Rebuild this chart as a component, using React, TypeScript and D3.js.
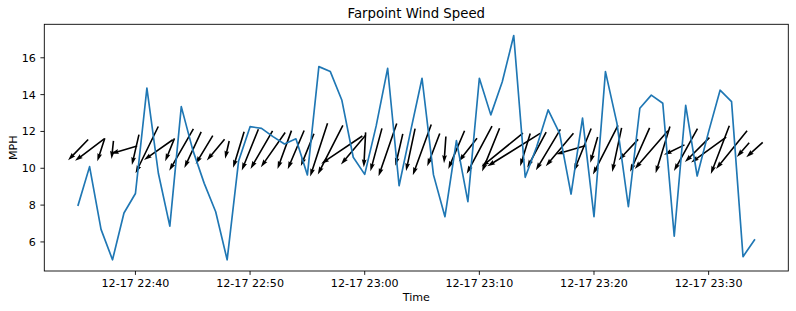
import React from 'react';
import * as d3 from 'd3';

// ---- data ----
const START = new Date(2023, 11, 17, 22, 35, 0);
// wind speed (MPH), one reading per minute
const speeds: number[] = [
  8.0, 10.09, 6.68, 5.03, 7.57, 8.63, 14.35, 9.73, 6.86, 13.35,
  11.0, 9.18, 7.64, 5.03, 10.4, 12.26, 12.17, 11.72, 11.32, 11.6,
  9.64, 15.52, 15.25, 13.71, 10.6, 9.67, 12.3, 15.43, 9.05, 12.0,
  14.89, 9.64, 7.37, 11.5, 8.19, 14.89, 12.9, 14.7, 17.21, 9.51,
  11.17, 13.17, 11.9, 8.6, 12.72, 7.37, 15.25, 12.45, 7.91, 13.26,
  13.97, 13.53, 6.31, 13.42, 9.58, 11.99, 14.24, 13.62, 5.2, 6.11,
];
// wind direction (degrees, direction the wind blows FROM)
const directions: number[] = [
  44, 53, 18, 6, 74, 13, 26, 55, 22, 30,
  25, 31, 40, 13, 17, 22, 30, 35, 20, 23,
  22, 18, 27, 56, 40, 3, 15, 19, 13, 12,
  20, 21, 4, 23, 38, 28, 22, 51, 58, 17,
  28, 31, 40, 74, 22, 16, 27, 12, 43, 24,
  41, 17, 64, 29, 45, 54, 21, 39, 41, 48,
];
const yTicks: number[] = [6, 8, 10, 12, 14, 16];
const QUIVER_Y = 11;
const TITLE = 'Farpoint Wind Speed';
const X_LABEL = 'Time';
const Y_LABEL = 'MPH';

export default function App() {
  const W = 796, H = 311;
  const L = 44.3, R = 788.3, T = 24.3, B = 271;
  const font = 'DejaVu Sans, sans-serif';
  const fs = 11.1;

  const times = speeds.map((_, i) => new Date(START.getTime() + i * 60000));
  const t0 = +times[0], t1 = +times[times.length - 1];
  const span = t1 - t0;
  const x = d3.scaleTime()
    .domain([new Date(t0 - 0.05 * span), new Date(t1 + 0.05 * span)])
    .range([L, R]);
  const ymin = d3.min(speeds) as number, ymax = d3.max(speeds) as number;
  const yr = ymax - ymin;
  const y = d3.scaleLinear().domain([ymin - 0.05 * yr, ymax + 0.05 * yr]).range([B, T]);

  const line = d3.line<number>().x((_, i) => x(times[i])).y(d => y(d));
  const xTicks = x.ticks(d3.timeMinute.every(10) as any);
  const fmt = d3.timeFormat('%m-%d %H:%M');

  // quiver arrows, pivot middle, length proportional to speed
  const k = 3.62;
  const w = 1.6;
  const hl = 5 * w, hal = 4.5 * w, hw = 1.5 * w;
  const arrows = speeds.map((s, i) => {
    const len = s * k;
    const rad = (directions[i] * Math.PI) / 180;
    const ux = -Math.sin(rad), uy = Math.cos(rad);
    const px = -uy, py = ux;
    const cx = x(times[i]), cy = y(QUIVER_Y);
    const pts: [number, number][] = [
      [0, -w / 2], [len - hal, -w / 2], [len - hl, -hw], [len, 0],
      [len - hl, hw], [len - hal, w / 2], [0, w / 2],
    ];
    const d = pts.map(([a, b], j) => {
      const aa = a - len / 2;
      const X = cx + aa * ux + b * px;
      const Y = cy + aa * uy + b * py;
      return `${j ? 'L' : 'M'}${X.toFixed(2)},${Y.toFixed(2)}`;
    }).join('') + 'Z';
    return d;
  });

  return (
    <svg width={W} height={H} style={{ position: 'absolute', left: 0, top: 0, background: '#fff' }}
      fontFamily={font}>
      <rect x={0} y={0} width={W} height={H} fill="#fff" />
      <g>
        {arrows.map((d, i) => <path key={i} d={d} fill="#000" />)}
      </g>
      <path d={line(speeds) || ''} fill="none" stroke="#1f77b4" strokeWidth={1.67} strokeLinejoin="round" strokeLinecap="square" />
      <rect x={L} y={T} width={R - L} height={B - T} fill="none" stroke="#000" strokeWidth={0.89} />
      {xTicks.map((t, i) => (
        <g key={i}>
          <line x1={x(t)} x2={x(t)} y1={B} y2={B + 3.9} stroke="#000" strokeWidth={0.89} />
          <text x={x(t)} y={B + 16.3} fontSize={fs} textAnchor="middle" fill="#000">{fmt(t)}</text>
        </g>
      ))}
      {yTicks.map((v, i) => (
        <g key={i}>
          <line x1={L - 3.9} x2={L} y1={y(v)} y2={y(v)} stroke="#000" strokeWidth={0.89} />
          <text x={L - 8.4} y={y(v)} dy="0.36em" fontSize={fs} textAnchor="end" fill="#000">{v}</text>
        </g>
      ))}
      <text x={(L + R) / 2} y={301} fontSize={fs} textAnchor="middle" fill="#000">{X_LABEL}</text>
      <text transform={`translate(16.5,${(T + B) / 2}) rotate(-90)`} fontSize={fs} textAnchor="middle" fill="#000">{Y_LABEL}</text>
      <text x={(L + R) / 2} y={18} fontSize={13.3} textAnchor="middle" fill="#000">{TITLE}</text>
    </svg>
  );
}
